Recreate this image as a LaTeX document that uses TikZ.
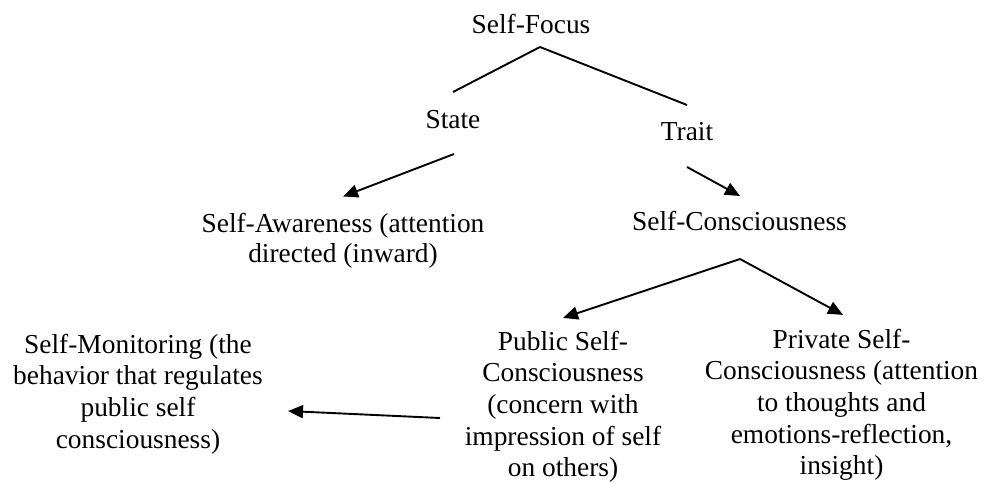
\documentclass[tikz,border=0pt]{standalone}
\usepackage{fontspec}
\setmainfont{Liberation Serif}
\usetikzlibrary{arrows.meta}
\begin{document}
\begin{tikzpicture}[x=1pt,y=-1pt,
  lbl/.style={inner sep=0pt, anchor=base, font=\fontsize{27.4}{31.6}\selectfont},
  blk/.style={inner sep=0pt, anchor=north, align=center, font=\fontsize{27.4}{31.6}\selectfont},
  conn/.style={line width=1.9pt, black},
  arr/.style={conn, -{Triangle[length=15pt,width=13pt]}}]
\useasboundingbox (0,0) rectangle (987,482);
\node[lbl] (focus) at (531,33) {Self-Focus};
\node[lbl] (state) at (453,128) {State};
\node[lbl] (trait) at (687,140) {Trait};
\node[blk, font=\fontsize{27.4}{30.5}\selectfont] (aware) at (343,210.5) {\strut Self-Awareness (attention\\directed (inward)};
\node[lbl] (sc) at (739.5,230) {Self-Consciousness};
\node[blk] (pub) at (563,327.9) {\strut Public Self-\\Consciousness\\(concern with\\impression of self\\on others)};
\node[blk] (priv) at (841.5,325.9) {\strut Private Self-\\Consciousness (attention\\to thoughts and\\emotions-reflection,\\insight)};
\node[blk] (mon) at (138,330.9) {\strut Self-Monitoring (the\\behavior that regulates\\public self\\consciousness)};
\draw[conn] ([shift={(9,14)}]focus.base) -- ([shift={(0,-36)}]state.base);
\draw[conn] ([shift={(9,14)}]focus.base) -- ([shift={(0,-35)}]trait.base);
\draw[arr] ([shift={(1,26)}]state.base) -- ([shift={(0,-14)}]aware.north);
\draw[arr] ([shift={(0,27)}]trait.base) -- ([shift={(0.5,-34)}]sc.base);
\draw[arr] ([shift={(0.5,29)}]sc.base) -- ([shift={(0,-10)}]pub.north);
\draw[arr] ([shift={(0.5,29)}]sc.base) -- ([shift={(1.5,-11)}]priv.north);
\draw[arr] ([shift={(-123,90.1)}]pub.north) -- ([shift={(150,80.1)}]mon.north);
\end{tikzpicture}
\end{document}
